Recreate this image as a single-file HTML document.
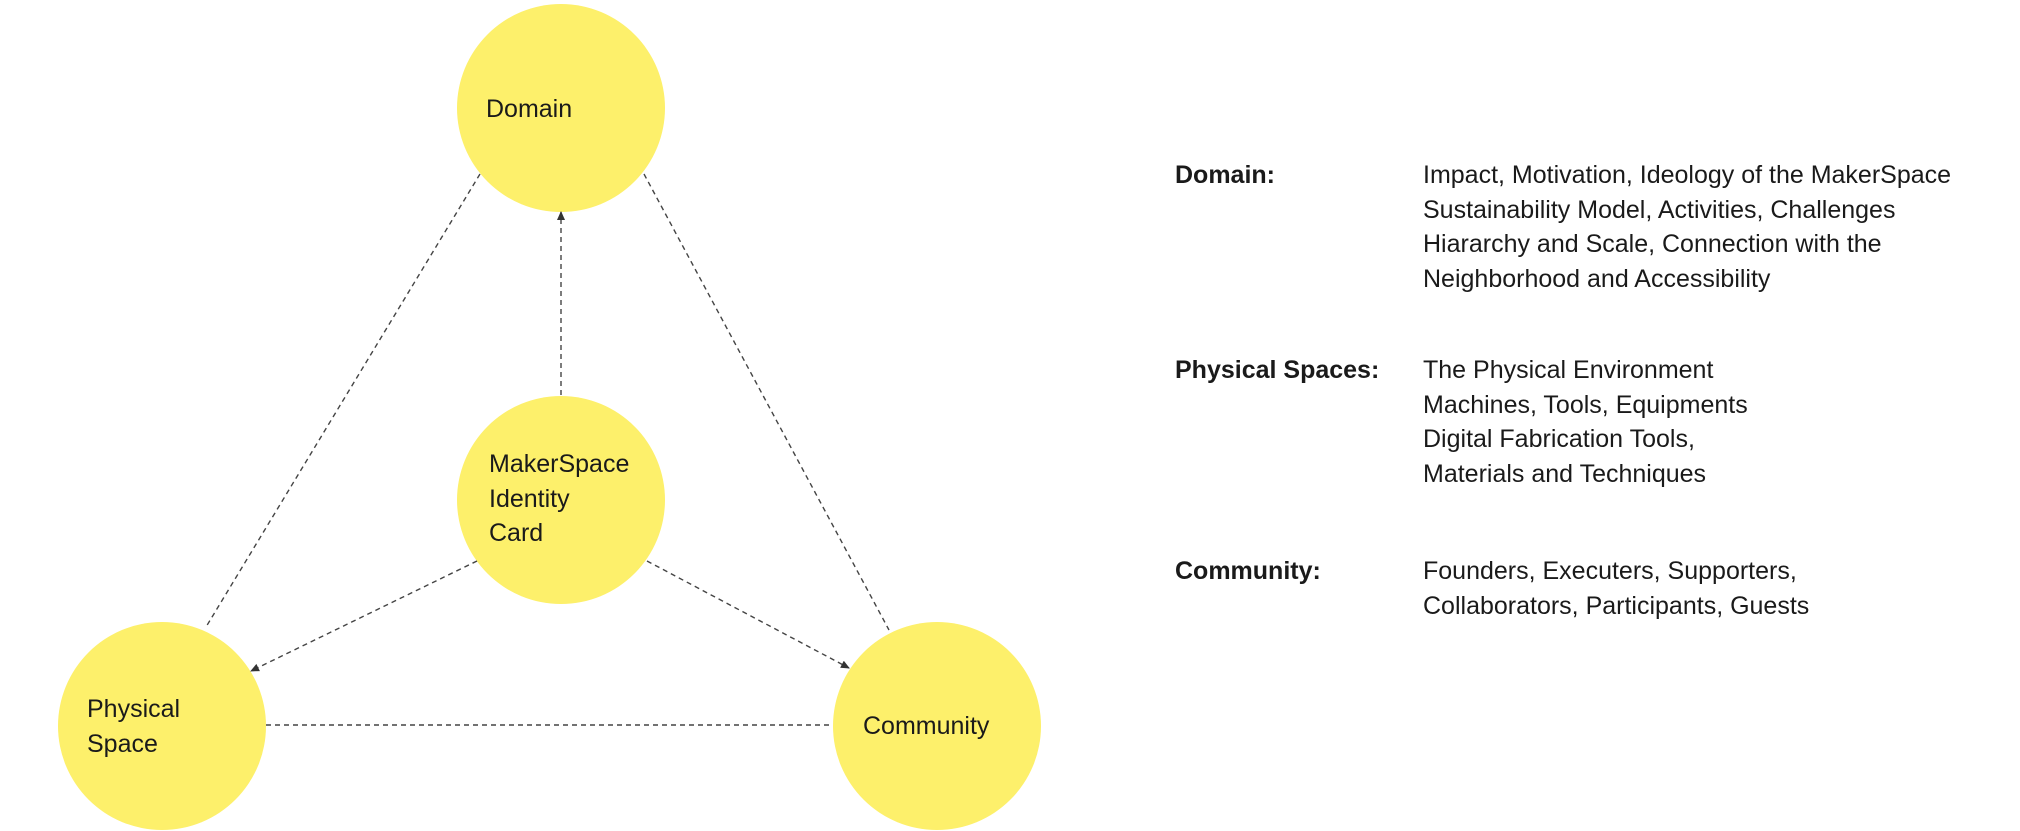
<!DOCTYPE html>
<html><head><meta charset="utf-8"><style>
html,body{margin:0;padding:0;background:#fff;width:2020px;height:831px;overflow:hidden;font-family:"Liberation Sans",sans-serif;color:#1a1a1a}
.t{position:absolute;font-size:25px;line-height:34.5px;white-space:nowrap}
.b{font-weight:bold}
</style></head><body>
<svg width="2020" height="831" style="position:absolute;left:0;top:0">
<defs><marker id="a" markerWidth="10" markerHeight="10" refX="8" refY="5" orient="auto" markerUnits="userSpaceOnUse"><path d="M0,1 L9,5 L0,9 z" fill="#333"/></marker></defs>
<circle cx="561" cy="108" r="104" fill="#fdf06b"/>
<circle cx="561" cy="500" r="104" fill="#fdf06b"/>
<circle cx="162" cy="726" r="104" fill="#fdf06b"/>
<circle cx="937" cy="726" r="104" fill="#fdf06b"/>
<g stroke="#444" stroke-width="1.4" stroke-dasharray="5,4" fill="none">
<line x1="480" y1="174" x2="206" y2="627"/>
<line x1="644" y1="174" x2="889" y2="630"/>
<line x1="266" y1="725" x2="832" y2="725"/>
<line x1="561" y1="395" x2="561" y2="212" marker-end="url(#a)"/>
<line x1="477" y1="561" x2="251" y2="671" marker-end="url(#a)"/>
<line x1="647" y1="561" x2="849" y2="668" marker-end="url(#a)"/>
</g>
</svg>
<div class="t" style="left:486px;top:92px">Domain</div>
<div class="t" style="left:489px;top:447px">MakerSpace<br>Identity<br>Card</div>
<div class="t" style="left:87px;top:692px">Physical<br>Space</div>
<div class="t" style="left:863px;top:709px">Community</div>
<div class="t b" style="left:1175px;top:158px">Domain:</div>
<div class="t" style="left:1423px;top:158px">Impact, Motivation, Ideology of the MakerSpace<br>Sustainability Model, Activities, Challenges<br>Hiararchy and Scale, Connection with the<br>Neighborhood and Accessibility</div>
<div class="t b" style="left:1175px;top:353px">Physical Spaces:</div>
<div class="t" style="left:1423px;top:353px">The Physical Environment<br>Machines, Tools, Equipments<br>Digital Fabrication Tools,<br>Materials and Techniques</div>
<div class="t b" style="left:1175px;top:554px">Community:</div>
<div class="t" style="left:1423px;top:554px">Founders, Executers, Supporters,<br>Collaborators, Participants, Guests</div>
</body></html>
